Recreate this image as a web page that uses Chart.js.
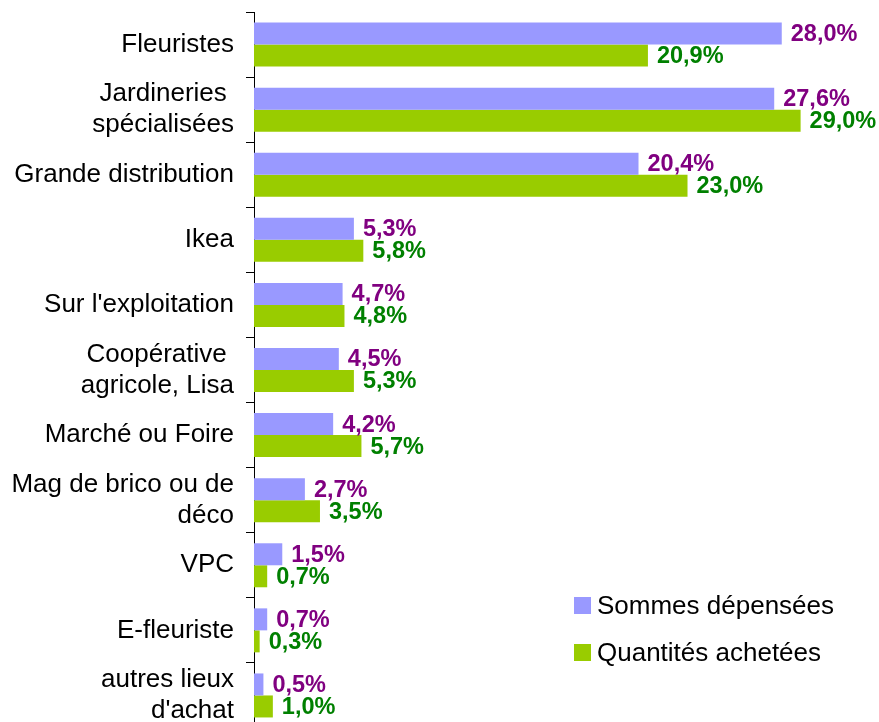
<!DOCTYPE html>
<html lang="fr">
<head>
<meta charset="utf-8">
<title>Lieux d'achat</title>
<script src="https://cdn.jsdelivr.net/npm/chart.js@4/dist/chart.umd.min.js"></script>
<style>
  html, body { margin: 0; padding: 0; background: #fff; overflow: hidden; }
  #wrap { position: relative; width: 879px; height: 722px; overflow: hidden; }
  #chart { position: absolute; left: 0; top: 0; }
  .legend { position: absolute; left: 574px; top: 591px; font: 26px Arial, "Liberation Sans", sans-serif; color: #000; }
  .legend-row { display: flex; align-items: center; height: 29px; margin-bottom: 18px; }
  .legend-box { width: 17px; height: 17px; margin-right: 6px; }
</style>
</head>
<body>
<div id="wrap">
  <canvas id="chart" width="879" height="740"></canvas>
  <div class="legend" id="legend"></div>
</div>
<script>
// ====================== Data ======================
const CATEGORIES = [
  "Fleuristes",
  ["Jardineries ", "spécialisées"],
  "Grande distribution",
  "Ikea",
  "Sur l'exploitation",
  ["Coopérative ", "agricole, Lisa"],
  "Marché ou Foire",
  ["Mag de brico ou de", "déco"],
  "VPC",
  "E-fleuriste",
  ["autres lieux", "d'achat"]
];
const SOMMES = [28.0, 27.6, 20.4, 5.3, 4.7, 4.5, 4.2, 2.7, 1.5, 0.7, 0.5];
const QUANTITES = [20.9, 29.0, 23.0, 5.8, 4.8, 5.3, 5.7, 3.5, 0.7, 0.3, 1.0];
const SERIES_NAMES = ["Sommes dépensées", "Quantités achetées"];

const BAR_COLORS = ["#9999FF", "#99CC00"];
const LABEL_COLORS = ["#800080", "#008000"];
const FONT = 'Arial, "Liberation Sans", sans-serif';

// ── value labels at bar ends ──
const valueLabels = {
  id: "valueLabels",
  afterDatasetsDraw(chart) {
    const ctx = chart.ctx;
    ctx.save();
    ctx.font = "bold 23.5px " + FONT;
    ctx.textAlign = "left";
    ctx.textBaseline = "middle";
    chart.data.datasets.forEach((ds, i) => {
      ctx.fillStyle = LABEL_COLORS[i];
      chart.getDatasetMeta(i).data.forEach((bar, j) => {
        const txt = ds.data[j].toFixed(1).replace(".", ",") + "%";
        ctx.fillText(txt, bar.x + 9, bar.y + 1);
      });
    });
    ctx.restore();
  }
};

new Chart(document.getElementById("chart"), {
  type: "bar",
  data: {
    labels: CATEGORIES,
    datasets: [
      { label: SERIES_NAMES[0], data: SOMMES, backgroundColor: BAR_COLORS[0] },
      { label: SERIES_NAMES[1], data: QUANTITES, backgroundColor: BAR_COLORS[1] }
    ]
  },
  options: {
    indexAxis: "y",
    responsive: false,
    animation: false,
    devicePixelRatio: 1,
    layout: { padding: { top: 12, bottom: 12, left: 0, right: 3 } },
    datasets: { bar: { categoryPercentage: 0.676, barPercentage: 1.0 } },
    plugins: { legend: { display: false }, tooltip: { enabled: false } },
    scales: {
      x: { display: false, min: 0, max: 33 },
      y: {
        afterFit(scale) {
          scale.width = 254;
          scale.paddingTop = 0;
          scale.paddingBottom = 0;
        },
        border: { display: true, color: "#000", width: 1 },
        grid: { drawOnChartArea: false, drawTicks: true, tickLength: 8, color: "#000", offset: true },
        ticks: { color: "#000", padding: 12, autoSkip: false, font: { family: FONT, size: 26 } }
      }
    }
  },
  plugins: [valueLabels]
});

// ── legend ──
document.getElementById("legend").innerHTML = SERIES_NAMES.map((name, i) => `
  <div class="legend-row">
    <span class="legend-box" style="background:${BAR_COLORS[i]}"></span>${name}
  </div>`).join("");
</script>
</body>
</html>
